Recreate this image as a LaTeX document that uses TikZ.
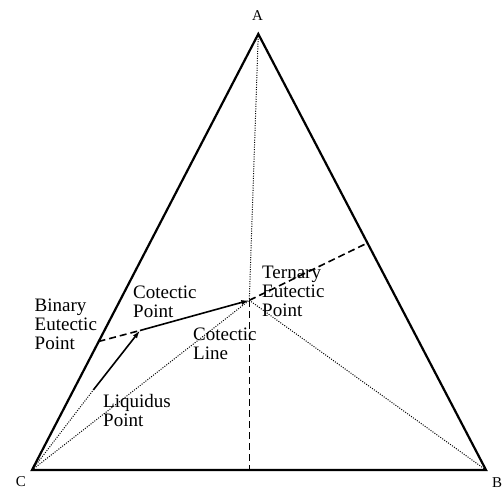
\documentclass[tikz,border=0pt]{standalone}
\usepackage{fontspec}
\setmainfont{Liberation Serif}
\usetikzlibrary{arrows.meta}

\begin{document}
\begin{tikzpicture}[x=1pt, y=-1pt,
    side/.style={line width=2.2pt, line join=miter},
    guide/.style={line width=1.6pt, dash pattern=on 7pt off 4pt},
    trace/.style={line width=1pt, dash pattern=on 1pt off 1.4pt},
    flow/.style={line width=1.6pt, -{Latex[length=8pt, width=5pt]}},
    corner/.style={inner sep=0pt, anchor=base, font=\fontsize{15}{15}\selectfont},
    note/.style={inner sep=0pt, anchor=base west, align=left, font=\fontsize{19}{19}\selectfont}]

    \useasboundingbox (0,0) rectangle (504,489);

    \coordinate (A) at (258.3,34);
    \coordinate (B) at (486,470);
    \coordinate (C) at (32,470);
    \coordinate (E) at (249.3,300.3);
    \coordinate (P) at (140,330.5);
    \coordinate (L) at (93.3,390);
    \coordinate (Q) at (98.5,341.5);
    \coordinate (R) at (367.4,243);
    \coordinate (S) at (249.3,470);

    \draw[trace] (A) -- (E);
    \draw[trace] (C) -- (E);
    \draw[trace] (B) -- (E);
    \draw[trace] (C) -- (L);
    \draw[guide] (Q) -- (P);
    \draw[guide] (E) -- (R);
    \draw[guide] (E) -- (S);
    \draw[flow] (L) -- (P);
    \draw[flow] (P) -- (E);
    \draw[side] (C) -- (A) -- (B) -- cycle;

    \node[corner] (labelA) at (257.5,21) {A};
    \node[corner] (labelB) at (497,487) {B};
    \node[corner] (labelC) at (21,486.5) {C};

    % base anchor sits on the last line
    \node[note] (binary) at (34.5,349.3) {Binary\\Eutectic\\Point};
    \node[note] (cotpoint) at (133,317.3) {Cotectic\\Point};
    \node[note] (cotline) at (193,359.3) {Cotectic\\Line};
    \node[note] (liquidus) at (103,426.7) {Liquidus\\Point};
    \node[note] (ternary) at (262,316.7) {Ternary\\Eutectic\\Point};
\end{tikzpicture}
\end{document}
